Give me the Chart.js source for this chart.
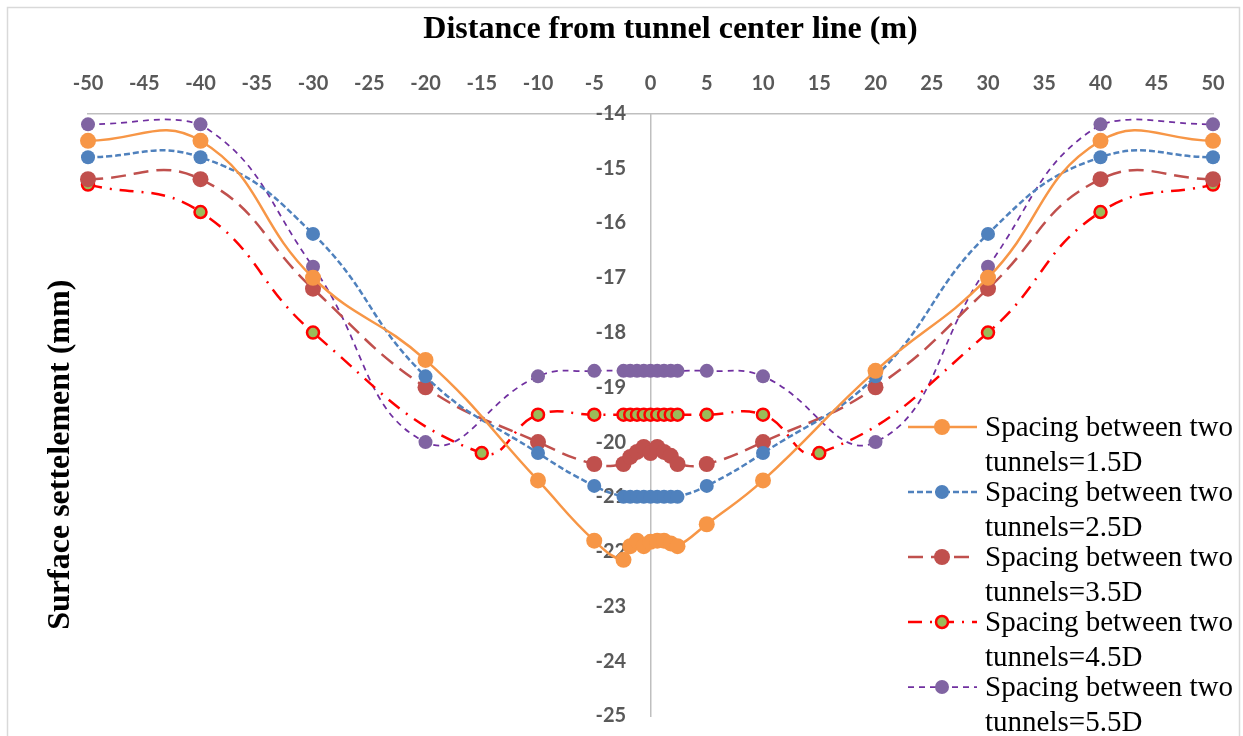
<!DOCTYPE html>
<html>
<head>
<meta charset="utf-8">
<title>Surface settlement</title>
<script src="https://cdn.jsdelivr.net/npm/chart.js@4.4.0/dist/chart.umd.min.js"></script>
<style>
  html, body { margin: 0; padding: 0; background: #fff; }
  #wrap { position: relative; width: 1243px; height: 736px; }
</style>
</head>
<body>
<div id="wrap"><canvas id="settlementChart"></canvas></div>
<script>
// distance from tunnel center line (m)
const distanceA = [-50, -40, -30, -20, -10, -5, -2.4, -1.8, -1.2, -0.6, 0, 0.6, 1.2, 1.8, 2.4, 5, 10, 20, 30, 40, 50];
const distanceB = [-50, -40, -30, -15, -10, -5, -2.4, -1.8, -1.2, -0.6, 0, 0.6, 1.2, 1.8, 2.4, 5, 10, 15, 30, 40, 50];

// surface settlement (mm)
const spacing15D = [-14.5, -14.5, -17.0, -18.5, -20.7, -21.8, -22.15, -21.9, -21.8, -21.9, -21.82, -21.8, -21.8, -21.85, -21.9, -21.5, -20.7, -18.7, -17.0, -14.5, -14.5];
const spacing25D = [-14.8, -14.8, -16.2, -18.8, -20.2, -20.8, -21.0, -21.0, -21.0, -21.0, -21.0, -21.0, -21.0, -21.0, -21.0, -20.8, -20.2, -18.8, -16.2, -14.8, -14.8];
const spacing35D = [-15.2, -15.2, -17.2, -19.0, -20.0, -20.4, -20.4, -20.27, -20.18, -20.09, -20.2, -20.09, -20.18, -20.25, -20.4, -20.4, -20.0, -19.0, -17.2, -15.2, -15.2];
const spacing45D = [-15.3, -15.8, -18.0, -20.2, -19.5, -19.5, -19.5, -19.5, -19.5, -19.5, -19.5, -19.5, -19.5, -19.5, -19.5, -19.5, -19.5, -20.2, -18.0, -15.8, -15.3];
const spacing55D = [-14.2, -14.2, -16.8, -20.0, -18.8, -18.7, -18.7, -18.7, -18.7, -18.7, -18.7, -18.7, -18.7, -18.7, -18.7, -18.7, -18.8, -20.0, -16.8, -14.2, -14.2];

const seriesLabels = [
  ['Spacing between two', 'tunnels=1.5D'],
  ['Spacing between two', 'tunnels=2.5D'],
  ['Spacing between two', 'tunnels=3.5D'],
  ['Spacing between two', 'tunnels=4.5D'],
  ['Spacing between two', 'tunnels=5.5D'],
];

// axis ticks
const xTickValues = [-50, -45, -40, -35, -30, -25, -20, -15, -10, -5, 0, 5, 10, 15, 20, 25, 30, 35, 40, 45, 50];
const yTickValues = [-14, -15, -16, -17, -18, -19, -20, -21, -22, -23, -24, -25];

const toPoints = (xs, ys) => xs.map((x, i) => ({x, y: ys[i]}));

const tickFont = {family: 'Lato', weight: 'bold', size: 20};
const serif = '"Liberation Serif", "Times New Roman", serif';

// light frame like the excel chart border
const chartFrame = {
  id: 'chartFrame',
  beforeDraw(chart) {
    const ctx = chart.ctx;
    ctx.save();
    ctx.strokeStyle = '#d9d9d9';
    ctx.lineWidth = 1.5;
    ctx.strokeRect(7.5, 7.5, chart.width - 11, chart.height + 20);
    ctx.restore();
  }
};

// y title sits at the far left, away from the centered axis
const yTitle = {
  id: 'yTitle',
  afterDraw(chart) {
    const ctx = chart.ctx;
    const {top, bottom} = chart.chartArea;
    ctx.save();
    ctx.translate(61, (top + bottom) / 2 + 40);
    ctx.rotate(-Math.PI / 2);
    ctx.font = 'bold 32px ' + serif;
    ctx.fillStyle = '#000';
    ctx.textAlign = 'center';
    ctx.textBaseline = 'middle';
    ctx.fillText('Surface settelement (mm)', 0, 0);
    ctx.restore();
  }
};

// legend drawn over the plot, bottom right
const overlayLegend = {
  id: 'overlayLegend',
  afterDraw(chart) {
    const ctx = chart.ctx;
    const left = 908, top = 427, step = 65;
    chart.data.datasets.forEach((ds, i) => {
      const y = top + i * step;
      ctx.save();
      ctx.strokeStyle = ds.borderColor;
      ctx.lineWidth = ds.borderWidth;
      ctx.setLineDash(ds.borderDash || []);
      ctx.beginPath();
      ctx.moveTo(left, y);
      ctx.lineTo(left + 69, y);
      ctx.stroke();
      ctx.setLineDash([]);
      ctx.beginPath();
      ctx.arc(left + 34, y, ds.pointRadius, 0, Math.PI * 2);
      ctx.fillStyle = ds.pointBackgroundColor;
      ctx.fill();
      if (ds.pointBorderWidth) {
        ctx.lineWidth = ds.pointBorderWidth;
        ctx.strokeStyle = ds.pointBorderColor;
        ctx.stroke();
      }
      ctx.font = '29px ' + serif;
      ctx.fillStyle = '#000';
      ctx.textBaseline = 'middle';
      ctx.fillText(ds.label[0], left + 77, y + 1);
      ctx.fillText(ds.label[1], left + 77, y + 36);
      ctx.restore();
    });
  }
};

const makeSet = (label, xs, ys, line, marker) => Object.assign({
  label,
  data: toPoints(xs, ys),
  tension: 0.45,
  fill: false,
  clip: false,
  pointBorderWidth: 0,
}, line, marker);

const datasets = [
  makeSet(seriesLabels[0], distanceA, spacing15D,
    {borderColor: '#F79646', borderWidth: 2.5},
    {pointRadius: 8, pointBackgroundColor: '#F79646', pointBorderColor: '#F79646'}),
  makeSet(seriesLabels[1], distanceA, spacing25D,
    {borderColor: '#4F81BD', borderWidth: 2.5, borderDash: [6, 3]},
    {pointRadius: 7, pointBackgroundColor: '#4F81BD', pointBorderColor: '#4F81BD'}),
  makeSet(seriesLabels[2], distanceA, spacing35D,
    {borderColor: '#C0504D', borderWidth: 2.5, borderDash: [15, 8]},
    {pointRadius: 8, pointBackgroundColor: '#C0504D', pointBorderColor: '#C0504D'}),
  makeSet(seriesLabels[3], distanceB, spacing45D,
    {borderColor: '#FF0000', borderWidth: 2.5, borderDash: [14, 8, 2, 8]},
    {pointRadius: 6, pointBackgroundColor: '#9BBB59', pointBorderColor: '#FF0000', pointBorderWidth: 2.5}),
  makeSet(seriesLabels[4], distanceA, spacing55D,
    {borderColor: '#7030A0', borderWidth: 1.75, borderDash: [6, 5]},
    {pointRadius: 7, pointBackgroundColor: '#8064A2', pointBorderColor: '#8064A2'}),
];

new Chart(document.getElementById('settlementChart'), {
  type: 'line',
  data: {datasets},
  options: {
    responsive: true,
    maintainAspectRatio: false,
    animation: false,
    layout: {padding: {left: 88, right: 30, top: 7, bottom: 20}},
    plugins: {
      legend: {display: false},
      tooltip: {enabled: false},
    },
    scales: {
      x: {
        type: 'linear',
        position: 'top',
        min: -50,
        max: 50,
        afterBuildTicks: (scale) => { scale.ticks = xTickValues.map(v => ({value: v})); },
        grid: {drawOnChartArea: false, drawTicks: false},
        border: {color: '#bfbfbf', width: 1.5},
        ticks: {font: tickFont, color: '#595959', padding: 18, maxRotation: 0, autoSkip: false},
        title: {
          display: true,
          // leading spaces nudge the centered title a little right, as in the original
          text: '     Distance from tunnel center line (m)',
          font: {family: serif, weight: 'bold', size: 32},
          color: '#000',
          padding: {top: 4, bottom: 4},
        },
      },
      y: {
        type: 'linear',
        position: {x: 0},
        min: -25,
        max: -14,
        afterBuildTicks: (scale) => { scale.ticks = yTickValues.map(v => ({value: v})); },
        grid: {drawOnChartArea: false, drawTicks: false},
        border: {color: '#bfbfbf', width: 1.5},
        // labels sit left of the center line; trailing spaces push them off the axis
        ticks: {font: tickFont, color: '#595959', autoSkip: false, callback: (v) => v + '     '},
      },
    },
  },
  plugins: [chartFrame, yTitle, overlayLegend],
});
</script>
</body>
</html>
